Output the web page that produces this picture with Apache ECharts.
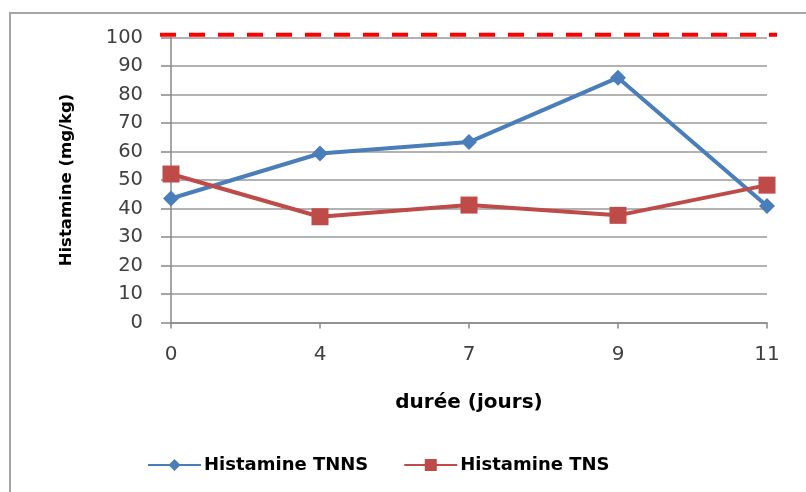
<!DOCTYPE html>
<html>
<head>
<meta charset="utf-8">
<script src="https://cdn.jsdelivr.net/npm/echarts@6/dist/echarts.min.js"></script>
<style>html,body{margin:0;padding:0;background:#fff}#c{width:806px;height:492px}</style>
</head>
<body>
<div id="c"></div>
<script>
const categories = ['0', '4', '7', '9', '11'];
const tnns = [43.5, 59.3, 63.3, 85.9, 40.9];
const tns = [52.1, 37.1, 41.2, 37.6, 48.2];
const limitValue = 101;
const seriesNames = ['Histamine TNNS', 'Histamine TNS'];
const yTicks = { min: 0, max: 100, interval: 10 };

const chart = echarts.init(document.getElementById('c'));
const FONT = 'DejaVu Sans';
chart.setOption({
  animation: false,
  backgroundColor: '#fff',
  grid: { left: 171, right: 39, top: 37.5, bottom: 169.5 },
  legend: {
    bottom: 18, left: 147, padding: 0,
    itemWidth: 53, itemHeight: 15, itemGap: 35,
    textStyle: { fontFamily: FONT, fontWeight: 'bold', fontSize: 18, color: '#000', padding: [0, 0, 0, -2] },
    data: seriesNames
  },
  xAxis: {
    type: 'category', data: categories, boundaryGap: false,
    name: 'durée (jours)', nameLocation: 'middle', nameGap: 70,
    nameTextStyle: { fontFamily: FONT, fontWeight: 'bold', fontSize: 20, color: '#000' },
    axisLine: { lineStyle: { color: '#888', width: 1.5 } },
    axisTick: { show: true, length: 6, alignWithLabel: true, lineStyle: { color: '#888', width: 1.5 } },
    axisLabel: { margin: 22, fontFamily: FONT, fontSize: 20, color: '#404040' },
    splitLine: { show: false }
  },
  yAxis: {
    type: 'value', min: yTicks.min, max: yTicks.max, interval: yTicks.interval,
    name: 'Histamine (mg/kg)', nameLocation: 'middle', nameGap: 96, nameRotate: 90,
    nameTextStyle: { fontFamily: FONT, fontWeight: 'bold', fontSize: 16.5, color: '#000' },
    axisLine: { show: true, lineStyle: { color: '#888', width: 1.5 } },
    axisTick: { show: true, length: 10, lineStyle: { color: '#888', width: 1.5 } },
    axisLabel: { margin: 28, fontFamily: FONT, fontSize: 19.5, color: '#404040' },
    splitLine: { show: true, lineStyle: { color: '#999', width: 1.5 } }
  },
  series: [
    {
      name: seriesNames[0], type: 'line', data: tnns,
      symbol: 'diamond', symbolSize: 16,
      lineStyle: { color: '#4A7EBB', width: 4 },
      itemStyle: { color: '#4A7EBB' }
    },
    {
      name: seriesNames[1], type: 'line', data: tns,
      symbol: 'rect', symbolSize: 17,
      lineStyle: { color: '#BE4B48', width: 4 },
      itemStyle: { color: '#BE4B48' }
    }
  ]
});

const p0 = chart.convertToPixel({ xAxisIndex: 0, yAxisIndex: 0 }, [0, limitValue]);
const p1 = chart.convertToPixel({ xAxisIndex: 0, yAxisIndex: 0 }, [categories.length - 1, limitValue]);
chart.setOption({
  graphic: [
    { type: 'rect', shape: { x: 10, y: 13, width: 900, height: 600 }, style: { fill: 'none', stroke: '#a6a6a6', lineWidth: 2 }, z: 0 },
    { type: 'line', shape: { x1: p0[0] - 11, y1: p0[1], x2: p1[0] + 10, y2: p1[1] },
      style: { stroke: '#FF0000', lineWidth: 4, lineDash: [16, 13] }, z: 10 }
  ]
});
</script>
</body>
</html>
